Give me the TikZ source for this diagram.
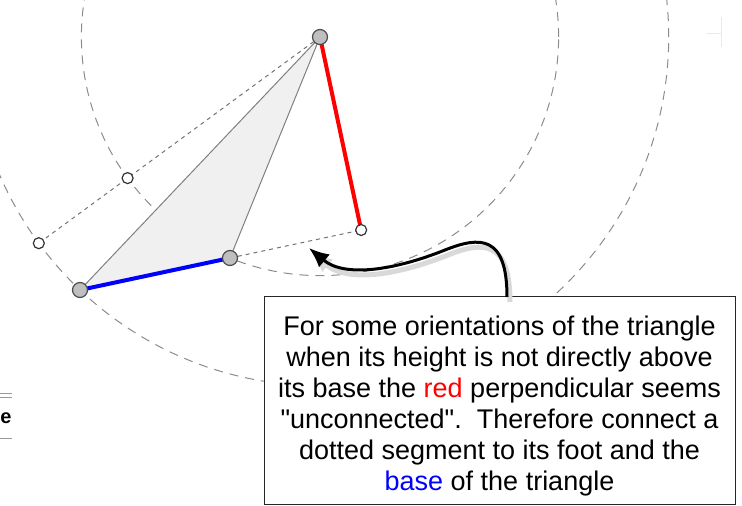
\documentclass[tikz,border=0pt]{standalone}
\usepackage{fontspec}
\setmainfont{Liberation Sans}
\usetikzlibrary{arrows.meta,calc,backgrounds}
\newcommand\straightquote{\XeTeXglyph\XeTeXcharglyph"22\relax}

\begin{document}
\begin{tikzpicture}[
    x=1pt,y=-1pt,
    vtx/.style={circle,draw=black!70,fill=black!25,line width=1.2pt,minimum size=15pt,inner sep=0pt},
    foot/.style={circle,draw=black!80,fill=white,line width=1.2pt,minimum size=11pt,inner sep=0pt},
    edge/.style={draw=black!50,line width=1pt},
    longdash/.style={black!45,line width=1pt,dash pattern=on 9pt off 7pt},
    shortdash/.style={black!55,line width=1pt,dash pattern=on 4pt off 4pt},
    note/.style={draw=black!85,fill=white,line width=1pt,minimum width=471pt,minimum height=208pt,align=center,inner sep=0pt,font=\fontsize{27}{31}\selectfont},
    arrow/.style={-{Latex[length=20pt,width=17pt]},line width=3pt}
]
\useasboundingbox (0,0) rectangle (742,506);
% triangle and rotated copies of its base points
\node[vtx] (A) at (320,37) {};
\node[vtx] (B) at (80,290) {};
\node[vtx] (C) at (230,258) {};
\node[foot] (F) at ($(B.center)!(A.center)!(C.center)$) {};
\node[foot] (P1) at (127.6,178.1) {};
\node[foot] (P2) at (38.8,243.2) {};
\begin{scope}[on background layer]
\draw[longdash] (A.center) circle[radius=238.6pt];
\draw[longdash] (A.center) circle[radius=348.7pt];
\fill[black!6] (A.center) -- (B.center) -- (C.center) -- cycle;
\draw[shortdash] (A.center) -- (P2.center);
\draw[shortdash] (C.center) -- (F.center);
\draw[edge] (B.center) -- (A.center) -- (C.center);
\draw[red,line width=4pt] (A.center) -- (F.center);
\draw[blue,line width=4pt] (B.center) -- (C.center);
\end{scope}
% callout
\node[note] (note) at (499.5,400) {\rule{0pt}{31pt}For some orientations of the triangle\\
when its height is not directly above\\
its base the \textcolor{red}{red} perpendicular seems\\
\straightquote unconnected\straightquote.\ \ Therefore connect a\\
dotted segment to its foot and the\\
\textcolor{blue}{base} of the triangle};
\coordinate (tail) at (507,297);
\coordinate (tip) at (309,248);
\draw[arrow,black!15,line width=5pt,transform canvas={shift={(3pt,-5pt)}}] (tail) .. controls (507,235) and (480,236) .. (445,250) .. controls (395,270) and (345,278) .. (tip);
\draw[arrow] (tail) .. controls (507,235) and (480,236) .. (445,250) .. controls (395,270) and (345,278) .. (tip);
% cut-off bits at the edges
\draw[black!40] (0,393) -- (12,393) (0,397) -- (12,397) (0,438) -- (12,438);
\node[inner sep=0pt,font=\bfseries\fontsize{20}{20}\selectfont] (frag) at (6,418) {e};
\draw[black!8] (706,33) -- (722,33) (721,17) -- (721,47);
\end{tikzpicture}
\end{document}
